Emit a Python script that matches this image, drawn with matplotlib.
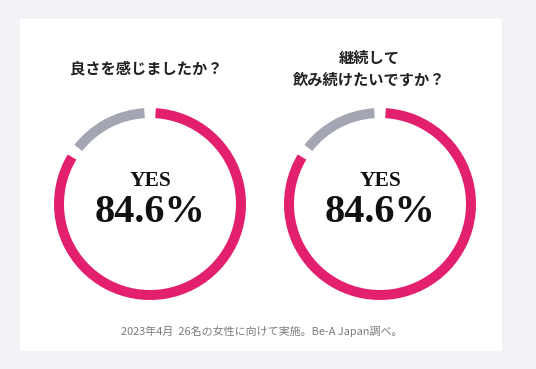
import matplotlib
matplotlib.use("Agg")
import matplotlib.pyplot as plt
from matplotlib.patches import Wedge, Rectangle

plt.rcParams['font.family'] = ['Noto Sans CJK JP', 'DejaVu Sans']

# ---- data ----
questions = ["良さを感じましたか？", "継続して\n飲み続けたいですか？"]
yes_values = [84.6, 84.6]
no_values = [15.4, 15.4]
center_label = "YES"
footnote = "2023年4月  26名の女性に向けて実施。Be-A Japan調べ。"

PINK = "#e3206e"
GRAY = "#a4a6b3"
BG = "#f3f3f7"

W, H = 536, 369
fig = plt.figure(figsize=(W / 100, H / 100), dpi=100, facecolor=BG)
ax = fig.add_axes([0, 0, 1, 1])
ax.set_xlim(0, W)
ax.set_ylim(H, 0)
ax.set_aspect('equal')
ax.axis('off')
ax.set_facecolor(BG)

# white card
ax.add_patch(Rectangle((20, 19), 482, 332, facecolor="white", edgecolor="none", zorder=0))

centers_x = [150, 380]
cy = 204
r_out = 96
ring_w = 10
gap = 7.0  # degrees

title_x = [146, 369]
for i, (q, yv, nv) in enumerate(zip(questions, yes_values, no_values)):
    cx = centers_x[i]
    total = yv + nv
    start = -90.0
    yes_span = 360.0 * yv / total
    # y axis inverted: increasing angle runs clockwise on screen
    ax.add_patch(Wedge((cx, cy), r_out, start + gap / 2, start + yes_span - gap / 2,
                       width=ring_w, facecolor=PINK, edgecolor="none"))
    ax.add_patch(Wedge((cx, cy), r_out, start + yes_span + gap / 2, start + 360 - gap / 2,
                       width=ring_w, facecolor=GRAY, edgecolor="none"))
    ax.text(cx, 181, center_label, ha='center', va='center', fontsize=15.5,
            fontweight='bold', family=['Liberation Serif'], color="#111111")
    ax.text(cx, 212, f"{yv:.1f}%", ha='center', va='center', fontsize=29,
            fontweight='bold', family=['Liberation Serif'], color="#111111")
    lines = q.split("\n")
    ys = [68] if len(lines) == 1 else [58, 80]
    for line, yy in zip(lines, ys):
        ax.text(title_x[i], yy, line, ha='center', va='center', fontsize=11,
                fontweight='bold', color="#222222")

ax.text(262, 331, footnote, ha='center', va='center', fontsize=7.9, color="#7a7a7a")

fig.savefig("out.png", dpi=100, facecolor=BG)
